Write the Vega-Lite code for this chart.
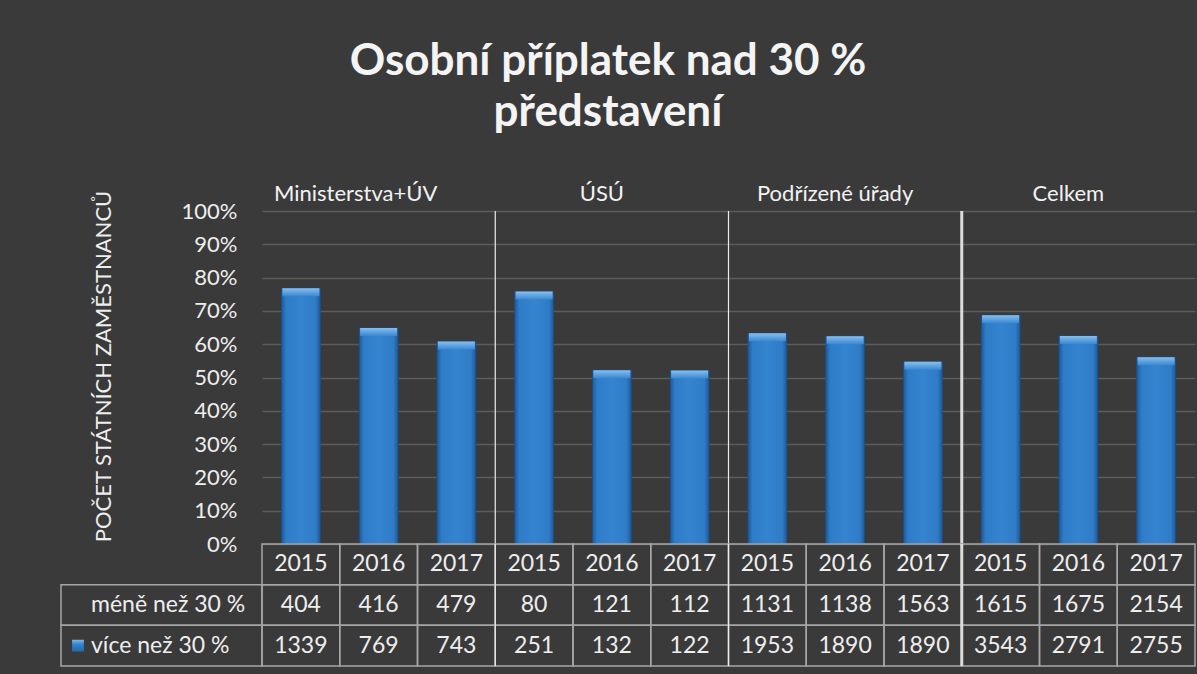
{
  "$schema": "https://vega.github.io/schema/vega-lite/v6.json",
  "padding": {"left": 60, "top": 40, "right": 3, "bottom": 9},
  "background": "#3a3a3a",
  "title": {
    "text": ["Osobní příplatek nad 30 %", "představení"],
    "anchor": "middle",
    "font": "Lato",
    "fontSize": 44,
    "fontWeight": "bold",
    "color": "#f4f4f4",
    "lineHeight": 51,
    "dx": -20,
    "offset": 48
  },
  "datasets": {
    "sloupce": [
      {"col": "M15", "skupina": "Ministerstva+ÚV", "rok": "2015", "mene": 404, "vice": 1339, "podil": 0.768},
      {"col": "M16", "skupina": "Ministerstva+ÚV", "rok": "2016", "mene": 416, "vice": 769, "podil": 0.649},
      {"col": "M17", "skupina": "Ministerstva+ÚV", "rok": "2017", "mene": 479, "vice": 743, "podil": 0.608},
      {"col": "U15", "skupina": "ÚSÚ", "rok": "2015", "mene": 80, "vice": 251, "podil": 0.758},
      {"col": "U16", "skupina": "ÚSÚ", "rok": "2016", "mene": 121, "vice": 132, "podil": 0.522},
      {"col": "U17", "skupina": "ÚSÚ", "rok": "2017", "mene": 112, "vice": 122, "podil": 0.521},
      {"col": "P15", "skupina": "Podřízené úřady", "rok": "2015", "mene": 1131, "vice": 1953, "podil": 0.633},
      {"col": "P16", "skupina": "Podřízené úřady", "rok": "2016", "mene": 1138, "vice": 1890, "podil": 0.624},
      {"col": "P17", "skupina": "Podřízené úřady", "rok": "2017", "mene": 1563, "vice": 1890, "podil": 0.547},
      {"col": "C15", "skupina": "Celkem", "rok": "2015", "mene": 1615, "vice": 3543, "podil": 0.687},
      {"col": "C16", "skupina": "Celkem", "rok": "2016", "mene": 1675, "vice": 2791, "podil": 0.625},
      {"col": "C17", "skupina": "Celkem", "rok": "2017", "mene": 2154, "vice": 2755, "podil": 0.561}
    ],
    "skupinyA": [
      {"col": "M16", "skupina": "Ministerstva+ÚV"}
    ],
    "skupinyB": [
      {"col": "U16", "skupina": "ÚSÚ"},
      {"col": "P16", "skupina": "Podřízené úřady"},
      {"col": "C16", "skupina": "Celkem"}
    ],
    "deleniTenke": [{"col": "M17"}, {"col": "U17"}],
    "deleniSilne": [{"col": "P17"}],
    "popisky": [
      {"sloupec": "popis", "radek": "mene", "popis": "méně než 30 %"},
      {"sloupec": "popis", "radek": "vice", "popis": "více než 30 %"}
    ]
  },
  "columns": 2,
  "spacing": 0,
  "bounds": "flush",
  "concat": [
    {
      "width": 201,
      "height": 333,
      "data": {"values": [{}]},
      "mark": {"type": "text", "text": ""}
    },
    {
      "width": 933,
      "height": 333,
      "layer": [
        {
          "data": {"name": "sloupce"},
          "encoding": {
            "x": {"field": "col", "type": "nominal", "axis": null,
                  "scale": {"domain": ["M15","M16","M17","U15","U16","U17","P15","P16","P17","C15","C16","C17"], "paddingInner": 0.5, "paddingOuter": 0.25}},
            "y": {"field": "podil", "type": "quantitative", "title": "POČET STÁTNÍCH ZAMĚSTNANCŮ",
                  "scale": {"domain": [0, 1], "nice": false},
                  "axis": {"values": [0, 0.1, 0.2, 0.3, 0.4, 0.5, 0.6, 0.7, 0.8, 0.9, 1], "format": ".0%",
                           "labelFont": "Lato", "labelFontSize": 22, "labelColor": "#eeeeee", "labelPadding": 25,
                           "ticks": false, "domain": false, "grid": true, "gridColor": "#5c5c5c", "gridWidth": 1.5,
                           "titleFont": "Lato", "titleFontSize": 22, "titleFontWeight": "normal", "titleColor": "#eeeeee",
                           "titlePadding": 66, "titleY": 155}}
          },
          "layer": [
            {"mark": {"type": "bar", "stroke": "#1b4f86", "strokeWidth": 0.8,
                      "fill": {"gradient": "linear", "x1": 0, "y1": 0, "x2": 1, "y2": 0,
                               "stops": [{"offset": 0, "color": "#1d5a9a"}, {"offset": 0.12, "color": "#2f7cc7"}, {"offset": 0.5, "color": "#3484cf"}, {"offset": 0.88, "color": "#2f7cc7"}, {"offset": 1, "color": "#1d5a9a"}]}}},
            {"mark": {"type": "tick", "thickness": 8, "size": 37, "yOffset": 4, "opacity": 1,
                      "fill": {"gradient": "linear", "x1": 0, "y1": 0, "x2": 0, "y2": 1,
                               "stops": [{"offset": 0, "color": "#86c0f0"}, {"offset": 1, "color": "#3a87d1"}]}}}
          ]
        },
        {
          "data": {"name": "skupinyA"},
          "mark": {"type": "text", "font": "Lato", "fontSize": 22, "color": "#f2f2f2", "baseline": "middle", "dy": -17, "dx": -23},
          "encoding": {
            "x": {"field": "col", "type": "nominal", "axis": null,
                  "scale": {"domain": ["M15","M16","M17","U15","U16","U17","P15","P16","P17","C15","C16","C17"], "paddingInner": 0.5, "paddingOuter": 0.25}},
            "y": {"datum": 1, "type": "quantitative", "title": "POČET STÁTNÍCH ZAMĚSTNANCŮ",
                  "scale": {"domain": [0, 1], "nice": false},
                  "axis": {"values": [0, 0.1, 0.2, 0.3, 0.4, 0.5, 0.6, 0.7, 0.8, 0.9, 1], "format": ".0%",
                           "labelFont": "Lato", "labelFontSize": 22, "labelColor": "#eeeeee", "labelPadding": 25,
                           "ticks": false, "domain": false, "grid": true, "gridColor": "#5c5c5c", "gridWidth": 1.5,
                           "titleFont": "Lato", "titleFontSize": 22, "titleFontWeight": "normal", "titleColor": "#eeeeee",
                           "titlePadding": 66, "titleY": 155}},
            "text": {"field": "skupina", "type": "nominal"}
          }
        },
        {
          "data": {"name": "skupinyB"},
          "mark": {"type": "text", "font": "Lato", "fontSize": 22, "color": "#f2f2f2", "baseline": "middle", "dy": -17, "dx": -10},
          "encoding": {
            "x": {"field": "col", "type": "nominal", "axis": null,
                  "scale": {"domain": ["M15","M16","M17","U15","U16","U17","P15","P16","P17","C15","C16","C17"], "paddingInner": 0.5, "paddingOuter": 0.25}},
            "y": {"datum": 1, "type": "quantitative", "title": "POČET STÁTNÍCH ZAMĚSTNANCŮ",
                  "scale": {"domain": [0, 1], "nice": false},
                  "axis": {"values": [0, 0.1, 0.2, 0.3, 0.4, 0.5, 0.6, 0.7, 0.8, 0.9, 1], "format": ".0%",
                           "labelFont": "Lato", "labelFontSize": 22, "labelColor": "#eeeeee", "labelPadding": 25,
                           "ticks": false, "domain": false, "grid": true, "gridColor": "#5c5c5c", "gridWidth": 1.5,
                           "titleFont": "Lato", "titleFontSize": 22, "titleFontWeight": "normal", "titleColor": "#eeeeee",
                           "titlePadding": 66, "titleY": 155}},
            "text": {"field": "skupina", "type": "nominal"}
          }
        },
        {
          "data": {"name": "deleniTenke"},
          "mark": {"type": "rule", "color": "#ececec", "strokeWidth": 1.2},
          "encoding": {
            "x": {"field": "col", "type": "nominal", "axis": null, "bandPosition": 1.5,
                  "scale": {"domain": ["M15","M16","M17","U15","U16","U17","P15","P16","P17","C15","C16","C17"], "paddingInner": 0.5, "paddingOuter": 0.25}}
          }
        },
        {
          "data": {"name": "deleniSilne"},
          "mark": {"type": "rule", "color": "#dcdcdc", "strokeWidth": 3},
          "encoding": {
            "x": {"field": "col", "type": "nominal", "axis": null, "bandPosition": 1.5,
                  "scale": {"domain": ["M15","M16","M17","U15","U16","U17","P15","P16","P17","C15","C16","C17"], "paddingInner": 0.5, "paddingOuter": 0.25}}
          }
        }
      ]
    },
    {
      "width": 201,
      "height": 122,
      "data": {"name": "popisky"},
      "encoding": {
        "x": {"field": "sloupec", "type": "nominal", "axis": null, "scale": {"paddingInner": 0, "paddingOuter": 0}},
        "y": {"field": "radek", "type": "nominal", "axis": null, "scale": {"domain": ["rok", "mene", "vice"], "paddingInner": 0, "paddingOuter": 0}}
      },
      "layer": [
        {"mark": {"type": "rect", "fill": null, "stroke": "#a6a6a6", "strokeWidth": 1.5}},
        {"mark": {"type": "text", "font": "Lato", "fontSize": 23, "color": "#eeeeee", "align": "left", "baseline": "middle", "dx": 30},
         "encoding": {
           "x": {"field": "sloupec", "type": "nominal", "axis": null, "bandPosition": 0},
           "text": {"field": "popis", "type": "nominal"}
         }},
        {"transform": [{"filter": "datum.radek === 'vice'"}],
         "mark": {"type": "point", "shape": "square", "size": 140, "filled": true, "opacity": 1, "xOffset": 17,
                  "fill": {"gradient": "linear", "x1": 0, "y1": 0, "x2": 0, "y2": 1,
                           "stops": [{"offset": 0, "color": "#7cb9ee"}, {"offset": 0.4, "color": "#3483cf"}, {"offset": 1, "color": "#2466a8"}]}},
         "encoding": {
           "x": {"field": "sloupec", "type": "nominal", "axis": null, "bandPosition": 0}
         }}
      ]
    },
    {
      "width": 933,
      "height": 122,
      "layer": [
        {
          "data": {"name": "sloupce"},
          "transform": [{"fold": ["rok", "mene", "vice"], "as": ["radek", "hodnota"]}],
          "encoding": {
            "x": {"field": "col", "type": "nominal", "axis": null,
                  "scale": {"domain": ["M15","M16","M17","U15","U16","U17","P15","P16","P17","C15","C16","C17"], "paddingInner": 0, "paddingOuter": 0}},
            "y": {"field": "radek", "type": "nominal", "axis": null, "scale": {"domain": ["rok", "mene", "vice"], "paddingInner": 0, "paddingOuter": 0}}
          },
          "layer": [
            {"mark": {"type": "rect", "fill": null, "stroke": "#a6a6a6", "strokeWidth": 1.5}},
            {"mark": {"type": "text", "font": "Lato", "fontSize": 23, "color": "#eeeeee", "align": "center", "baseline": "middle"},
             "encoding": {"text": {"field": "hodnota", "type": "nominal"}}}
          ]
        },
        {
          "data": {"name": "deleniTenke"},
          "mark": {"type": "rule", "color": "#ececec", "strokeWidth": 1.2},
          "encoding": {
            "x": {"field": "col", "type": "nominal", "axis": null, "bandPosition": 1,
                  "scale": {"domain": ["M15","M16","M17","U15","U16","U17","P15","P16","P17","C15","C16","C17"], "paddingInner": 0, "paddingOuter": 0}}
          }
        },
        {
          "data": {"name": "deleniSilne"},
          "mark": {"type": "rule", "color": "#dcdcdc", "strokeWidth": 3},
          "encoding": {
            "x": {"field": "col", "type": "nominal", "axis": null, "bandPosition": 1,
                  "scale": {"domain": ["M15","M16","M17","U15","U16","U17","P15","P16","P17","C15","C16","C17"], "paddingInner": 0, "paddingOuter": 0}}
          }
        }
      ]
    }
  ],
  "config": {
    "font": "Lato",
    "view": {"stroke": null},
    "axis": {"labelOverlap": false}
  }
}
